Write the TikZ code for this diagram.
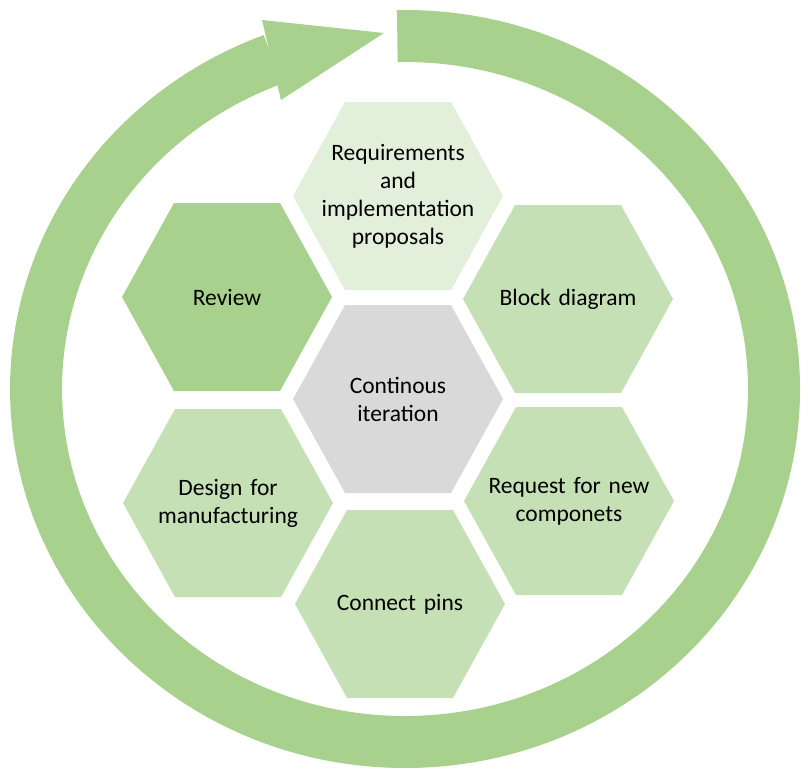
\documentclass[tikz,border=0pt]{standalone}
\usepackage{fontspec}
\setmainfont{Carlito}
\definecolor{ringgreen}{HTML}{A9D18E}
\definecolor{hexgreen}{HTML}{C5E0B4}
\definecolor{hexpale}{HTML}{E2EFDA}
\definecolor{hexgrey}{HTML}{D9D9D9}
\tikzset{
  hexlabel/.style={align=center, text width=180pt, inner sep=0pt,
    font=\fontsize{23.5}{28}\selectfont},
}

\begin{document}
\begin{tikzpicture}[x=1pt,y=-1pt]
\useasboundingbox (0,0) rectangle (810,779);
% ring and arrow head
\draw[ringgreen, line width=52pt] (397.3,36.1) arc[start angle=268.8, end angle=609, x radius=369, y radius=353];
\fill[ringgreen] (384,33) -- (262,20) -- (281,100) -- cycle;
% hexagons
\foreach \cx/\cy/\col/\nm/\txt in {
  398/196/hexpale/req/{Requirements\\and\\implementation\\proposals},
  227/297/ringgreen/review/{Review},
  568/299/hexgreen/block/{Block diagram},
  398/399/hexgrey/iter/{Continous\\iteration},
  228/503/hexgreen/dfm/{Design for\\manufacturing},
  569/501/hexgreen/request/{Request for new\\componets},
  400/604/hexgreen/pins/{Connect pins}}{
  \fill[\col] (\cx-105,\cy) -- (\cx-53,\cy-94) -- (\cx+53,\cy-94) -- (\cx+105,\cy)
    -- (\cx+53,\cy+94) -- (\cx-53,\cy+94) -- cycle;
  \node[hexlabel] (\nm) at (\cx,\cy) {\txt};
}
\end{tikzpicture}
\end{document}
